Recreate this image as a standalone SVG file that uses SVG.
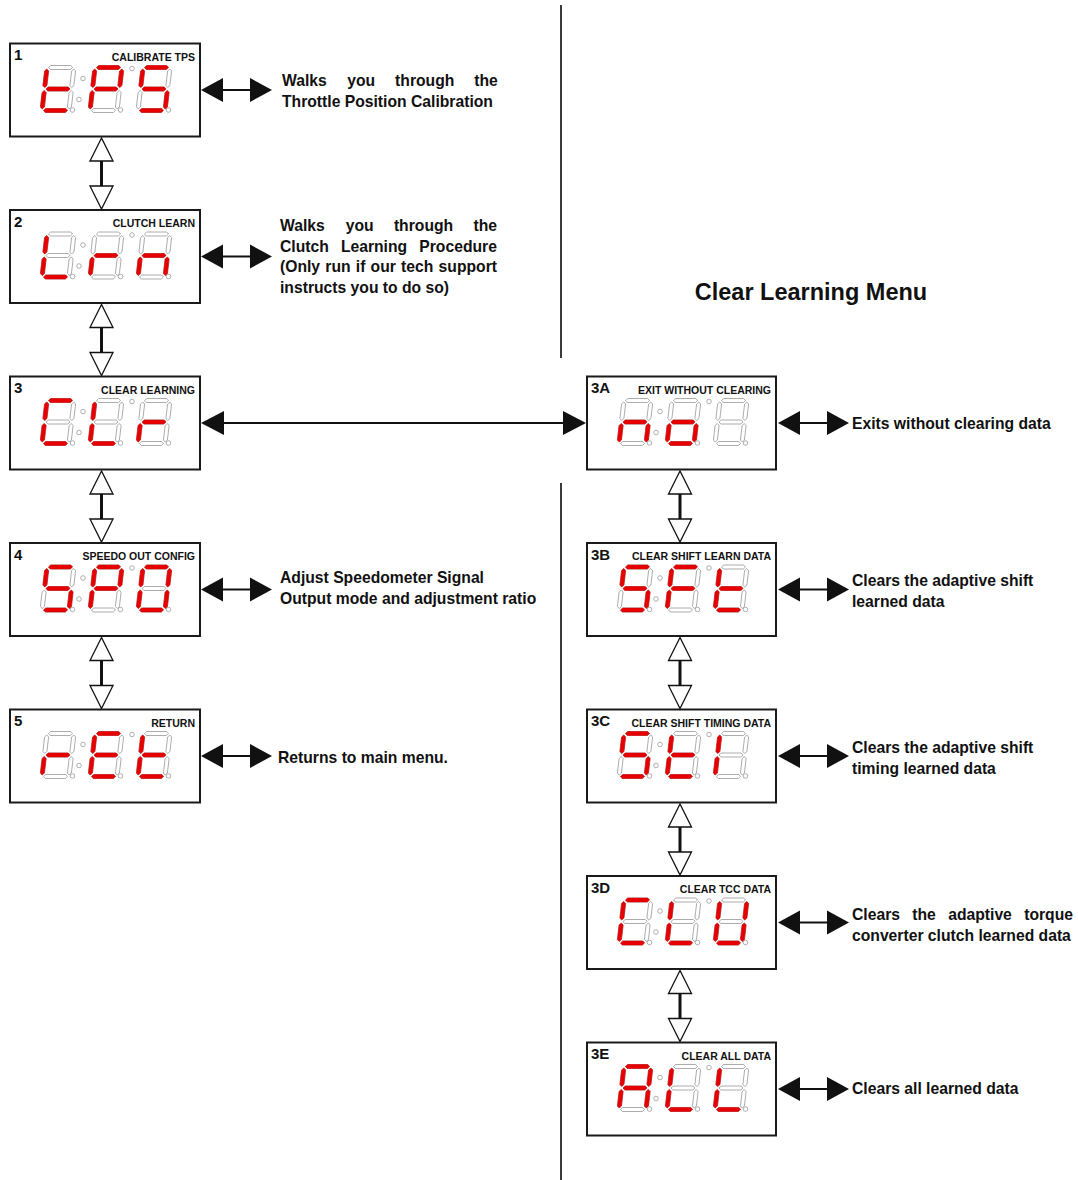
<svg xmlns="http://www.w3.org/2000/svg" xmlns:xlink="http://www.w3.org/1999/xlink" width="1078" height="1180" viewBox="0 0 1078 1180">
<style>
.box{fill:#fff;stroke:#1a1a1a;stroke-width:2}
.num{font-family:"Liberation Sans",Arial,sans-serif;font-weight:bold;font-size:15px;fill:#111}
.ttl{font-family:"Liberation Sans",Arial,sans-serif;font-weight:bold;font-size:10.5px;fill:#111;text-anchor:end}
.desc{font-family:"Liberation Sans",Arial,sans-serif;font-weight:bold;font-size:15.7px;fill:#111}
.head{font-family:"Liberation Sans",Arial,sans-serif;font-weight:bold;font-size:23.5px;fill:#111;text-anchor:middle}
.off{fill:#fff;stroke:#9a9a9a;stroke-width:0.8}
.on{fill:#e60000;stroke:#d40000;stroke-width:0.5}
.dot{fill:#fff;stroke:#9a9a9a;stroke-width:0.8}
.hol{fill:#fff;stroke:#111;stroke-width:1.3}
.stem{stroke:#111;stroke-width:3}
.blk{fill:#111}
.bline{stroke:#111;stroke-width:2}
.sep{stroke:#3a3a3a;stroke-width:2}
</style>
<defs>
<polygon id="sa" points="1.5,0 3.5,-2 23.5,-2 25.5,0 23.5,2 3.5,2"/>
<polygon id="sg" points="1.5,21.5 3.5,19.5 23.5,19.5 25.5,21.5 23.5,23.5 3.5,23.5"/>
<polygon id="sd" points="1.5,43 3.5,41 23.5,41 25.5,43 23.5,45 3.5,45"/>
<polygon id="sf" points="0,1.5 2,3.5 2,18 0,20 -2,18 -2,3.5"/>
<polygon id="se" points="0,23 2,25 2,39.5 0,41.5 -2,39.5 -2,25"/>
<polygon id="sb" points="27,1.5 29,3.5 29,18 27,20 25,18 25,3.5"/>
<polygon id="sc" points="27,23 29,25 29,39.5 27,41.5 25,39.5 25,25"/>
<g id="d8" class="off"><use href="#sa"/><use href="#sb"/><use href="#sc"/><use href="#sd"/><use href="#se"/><use href="#sf"/><use href="#sg"/></g>
<g id="disp">
<use href="#d8" transform="translate(37,24) skewX(-6.6)"/>
<use href="#d8" transform="translate(85,24) skewX(-6.6)"/>
<use href="#d8" transform="translate(133,24) skewX(-6.6)"/>
<circle class="dot" cx="73" cy="35" r="2.3"/>
<circle class="dot" cx="69" cy="56" r="2.3"/>
<circle class="dot" cx="122" cy="25" r="2.3"/>
<circle class="dot" cx="62.5" cy="66.5" r="2.3"/>
<circle class="dot" cx="110.5" cy="66.5" r="2.3"/>
<circle class="dot" cx="158.5" cy="66.5" r="2.3"/>
</g>
<g id="va"><polygon class="hol" points="0,1 -11.5,24 11.5,24"/><line class="stem" x1="0" y1="24" x2="0" y2="49"/><polygon class="hol" points="-11.5,49 11.5,49 0,72"/></g>
<g id="ha"><polygon class="blk" points="0,0 22,-12 22,12"/><line class="bline" x1="21" y1="0" x2="50" y2="0"/><polygon class="blk" points="49,-12 49,12 71,0"/></g>
</defs>

<rect width="1078" height="1180" fill="#fff"/>

<g id="separators">
<line class="sep" x1="561" y1="5" x2="561" y2="358"/>
<line class="sep" x1="561" y1="483" x2="561" y2="1180"/>
</g>

<text id="menu-title" class="head" x="811" y="299.5">Clear Learning Menu</text>

<g id="connectors">
<use href="#va" transform="translate(101.5,137)"/>
<use href="#va" transform="translate(101.5,303.5)"/>
<use href="#va" transform="translate(101.5,470)"/>
<use href="#va" transform="translate(101.5,636.5)"/>
<use href="#va" transform="translate(680,470)"/>
<use href="#va" transform="translate(680,636.5)"/>
<use href="#va" transform="translate(680,803)"/>
<use href="#va" transform="translate(680,969.5)"/>
<use href="#ha" transform="translate(201,90)"/>
<use href="#ha" transform="translate(201,256.5)"/>
<use href="#ha" transform="translate(201,589.5)"/>
<use href="#ha" transform="translate(201,756)"/>
<use href="#ha" transform="translate(778,423)"/>
<use href="#ha" transform="translate(778,589.5)"/>
<use href="#ha" transform="translate(778,756)"/>
<use href="#ha" transform="translate(778,922.5)"/>
<use href="#ha" transform="translate(778,1089)"/>
<g id="long-arrow">
<polygon class="blk" points="201,423 224,411 224,435"/>
<line class="bline" x1="223" y1="423" x2="564" y2="423"/>
<polygon class="blk" points="563,411 563,435 586,423"/>
</g>
</g>

<g id="n1" transform="translate(10,43.5)">
<rect class="box" width="190" height="93"/>
<text class="num" x="4" y="16.5">1</text>
<text class="ttl" x="185" y="17">CALIBRATE TPS</text>
<use href="#disp"/>
<g class="on" transform="translate(37,24) skewX(-6.6)"><use href="#sd"/><use href="#se"/><use href="#sf"/><use href="#sg"/></g>
<g class="on" transform="translate(85,24) skewX(-6.6)"><use href="#sa"/><use href="#sb"/><use href="#se"/><use href="#sf"/><use href="#sg"/></g>
<g class="on" transform="translate(133,24) skewX(-6.6)"><use href="#sa"/><use href="#sc"/><use href="#sd"/><use href="#sf"/><use href="#sg"/></g>
</g>

<g id="n2" transform="translate(10,210)">
<rect class="box" width="190" height="93"/>
<text class="num" x="4" y="16.5">2</text>
<text class="ttl" x="185" y="17">CLUTCH LEARN</text>
<use href="#disp"/>
<g class="on" transform="translate(37,24) skewX(-6.6)"><use href="#sd"/><use href="#se"/><use href="#sf"/></g>
<g class="on" transform="translate(85,24) skewX(-6.6)"><use href="#se"/><use href="#sg"/></g>
<g class="on" transform="translate(133,24) skewX(-6.6)"><use href="#sc"/><use href="#se"/><use href="#sg"/></g>
</g>

<g id="n3" transform="translate(10,376.5)">
<rect class="box" width="190" height="93"/>
<text class="num" x="4" y="16.5">3</text>
<text class="ttl" x="185" y="17">CLEAR LEARNING</text>
<use href="#disp"/>
<g class="on" transform="translate(37,24) skewX(-6.6)"><use href="#sa"/><use href="#sd"/><use href="#se"/><use href="#sf"/></g>
<g class="on" transform="translate(85,24) skewX(-6.6)"><use href="#sd"/><use href="#se"/><use href="#sf"/></g>
<g class="on" transform="translate(133,24) skewX(-6.6)"><use href="#se"/><use href="#sg"/></g>
</g>

<g id="n4" transform="translate(10,543)">
<rect class="box" width="190" height="93"/>
<text class="num" x="4" y="16.5">4</text>
<text class="ttl" x="185" y="17">SPEEDO OUT CONFIG</text>
<use href="#disp"/>
<g class="on" transform="translate(37,24) skewX(-6.6)"><use href="#sa"/><use href="#sc"/><use href="#sd"/><use href="#sf"/><use href="#sg"/></g>
<g class="on" transform="translate(85,24) skewX(-6.6)"><use href="#sa"/><use href="#sb"/><use href="#se"/><use href="#sf"/><use href="#sg"/></g>
<g class="on" transform="translate(133,24) skewX(-6.6)"><use href="#sa"/><use href="#sb"/><use href="#sc"/><use href="#sd"/><use href="#se"/><use href="#sf"/></g>
</g>

<g id="n5" transform="translate(10,709.5)">
<rect class="box" width="190" height="93"/>
<text class="num" x="4" y="16.5">5</text>
<text class="ttl" x="185" y="17">RETURN</text>
<use href="#disp"/>
<g class="on" transform="translate(37,24) skewX(-6.6)"><use href="#se"/><use href="#sg"/></g>
<g class="on" transform="translate(85,24) skewX(-6.6)"><use href="#sa"/><use href="#sd"/><use href="#se"/><use href="#sf"/><use href="#sg"/></g>
<g class="on" transform="translate(133,24) skewX(-6.6)"><use href="#sd"/><use href="#se"/><use href="#sf"/><use href="#sg"/></g>
</g>

<g id="n3A" transform="translate(587,376.5)">
<rect class="box" width="189" height="93"/>
<text class="num" x="4" y="16.5">3A</text>
<text class="ttl" x="184" y="17">EXIT WITHOUT CLEARING</text>
<use href="#disp"/>
<g class="on" transform="translate(37,24) skewX(-6.6)"><use href="#sc"/><use href="#se"/><use href="#sg"/></g>
<g class="on" transform="translate(85,24) skewX(-6.6)"><use href="#sc"/><use href="#sd"/><use href="#se"/><use href="#sg"/></g>
</g>

<g id="n3B" transform="translate(587,543)">
<rect class="box" width="189" height="93"/>
<text class="num" x="4" y="16.5">3B</text>
<text class="ttl" x="184" y="17">CLEAR SHIFT LEARN DATA</text>
<use href="#disp"/>
<g class="on" transform="translate(37,24) skewX(-6.6)"><use href="#sa"/><use href="#sc"/><use href="#sd"/><use href="#sf"/><use href="#sg"/></g>
<g class="on" transform="translate(85,24) skewX(-6.6)"><use href="#sa"/><use href="#se"/><use href="#sf"/><use href="#sg"/></g>
<g class="on" transform="translate(133,24) skewX(-6.6)"><use href="#sd"/><use href="#se"/><use href="#sf"/><use href="#sg"/></g>
</g>

<g id="n3C" transform="translate(587,709.5)">
<rect class="box" width="189" height="93"/>
<text class="num" x="4" y="16.5">3C</text>
<text class="ttl" x="184" y="17">CLEAR SHIFT TIMING DATA</text>
<use href="#disp"/>
<g class="on" transform="translate(37,24) skewX(-6.6)"><use href="#sa"/><use href="#sc"/><use href="#sd"/><use href="#sf"/><use href="#sg"/></g>
<g class="on" transform="translate(85,24) skewX(-6.6)"><use href="#sd"/><use href="#se"/><use href="#sf"/><use href="#sg"/></g>
<g class="on" transform="translate(133,24) skewX(-6.6)"><use href="#se"/><use href="#sf"/></g>
</g>

<g id="n3D" transform="translate(587,876)">
<rect class="box" width="189" height="93"/>
<text class="num" x="4" y="16.5">3D</text>
<text class="ttl" x="184" y="17">CLEAR TCC DATA</text>
<use href="#disp"/>
<g class="on" transform="translate(37,24) skewX(-6.6)"><use href="#sa"/><use href="#sd"/><use href="#se"/><use href="#sf"/></g>
<g class="on" transform="translate(85,24) skewX(-6.6)"><use href="#sd"/><use href="#se"/><use href="#sf"/></g>
<g class="on" transform="translate(133,24) skewX(-6.6)"><use href="#sb"/><use href="#sc"/><use href="#sd"/><use href="#se"/><use href="#sf"/></g>
</g>

<g id="n3E" transform="translate(587,1042.5)">
<rect class="box" width="189" height="93"/>
<text class="num" x="4" y="16.5">3E</text>
<text class="ttl" x="184" y="17">CLEAR ALL DATA</text>
<use href="#disp"/>
<g class="on" transform="translate(37,24) skewX(-6.6)"><use href="#sa"/><use href="#sb"/><use href="#sc"/><use href="#se"/><use href="#sf"/><use href="#sg"/></g>
<g class="on" transform="translate(85,24) skewX(-6.6)"><use href="#sd"/><use href="#se"/><use href="#sf"/></g>
<g class="on" transform="translate(133,24) skewX(-6.6)"><use href="#sd"/><use href="#se"/><use href="#sf"/></g>
</g>

<g id="desc1" class="desc">
<text y="85.5"><tspan x="282">Walks</tspan><tspan x="347.3">you</tspan><tspan x="395.1">through</tspan><tspan x="474.3">the</tspan></text>
<text x="282" y="106.5">Throttle Position Calibration</text>
</g>
<g id="desc2" class="desc">
<text y="230.5"><tspan x="280">Walks</tspan><tspan x="345.7">you</tspan><tspan x="393.9">through</tspan><tspan x="473.5">the</tspan></text>
<text y="251.5"><tspan x="280">Clutch</tspan><tspan x="340.9">Learning</tspan><tspan x="419.3">Procedure</tspan></text>
<text y="272"><tspan x="280">(Only</tspan><tspan x="325.3">run</tspan><tspan x="355.8">if</tspan><tspan x="370.6">our</tspan><tspan x="401.1">tech</tspan><tspan x="438.6">support</tspan></text>
<text x="280" y="292.5">instructs you to do so)</text>
</g>
<g id="desc4" class="desc">
<text x="280" y="582.5">Adjust Speedometer Signal</text>
<text x="280" y="603.5">Output mode and adjustment ratio</text>
</g>
<g id="desc5" class="desc">
<text x="278" y="762.5">Returns to main menu.</text>
</g>
<g id="desc3A" class="desc">
<text x="852" y="428.5">Exits without clearing data</text>
</g>
<g id="desc3B" class="desc">
<text x="852" y="585.5">Clears the adaptive shift</text>
<text x="852" y="606.5">learned data</text>
</g>
<g id="desc3C" class="desc">
<text x="852" y="752.5">Clears the adaptive shift</text>
<text x="852" y="773.5">timing learned data</text>
</g>
<g id="desc3D" class="desc">
<text y="919.5"><tspan x="852">Clears</tspan><tspan x="912.3">the</tspan><tspan x="948.2">adaptive</tspan><tspan x="1024.2">torque</tspan></text>
<text x="852" y="940.5">converter clutch learned data</text>
</g>
<g id="desc3E" class="desc">
<text x="852" y="1093.5">Clears all learned data</text>
</g>
</svg>
